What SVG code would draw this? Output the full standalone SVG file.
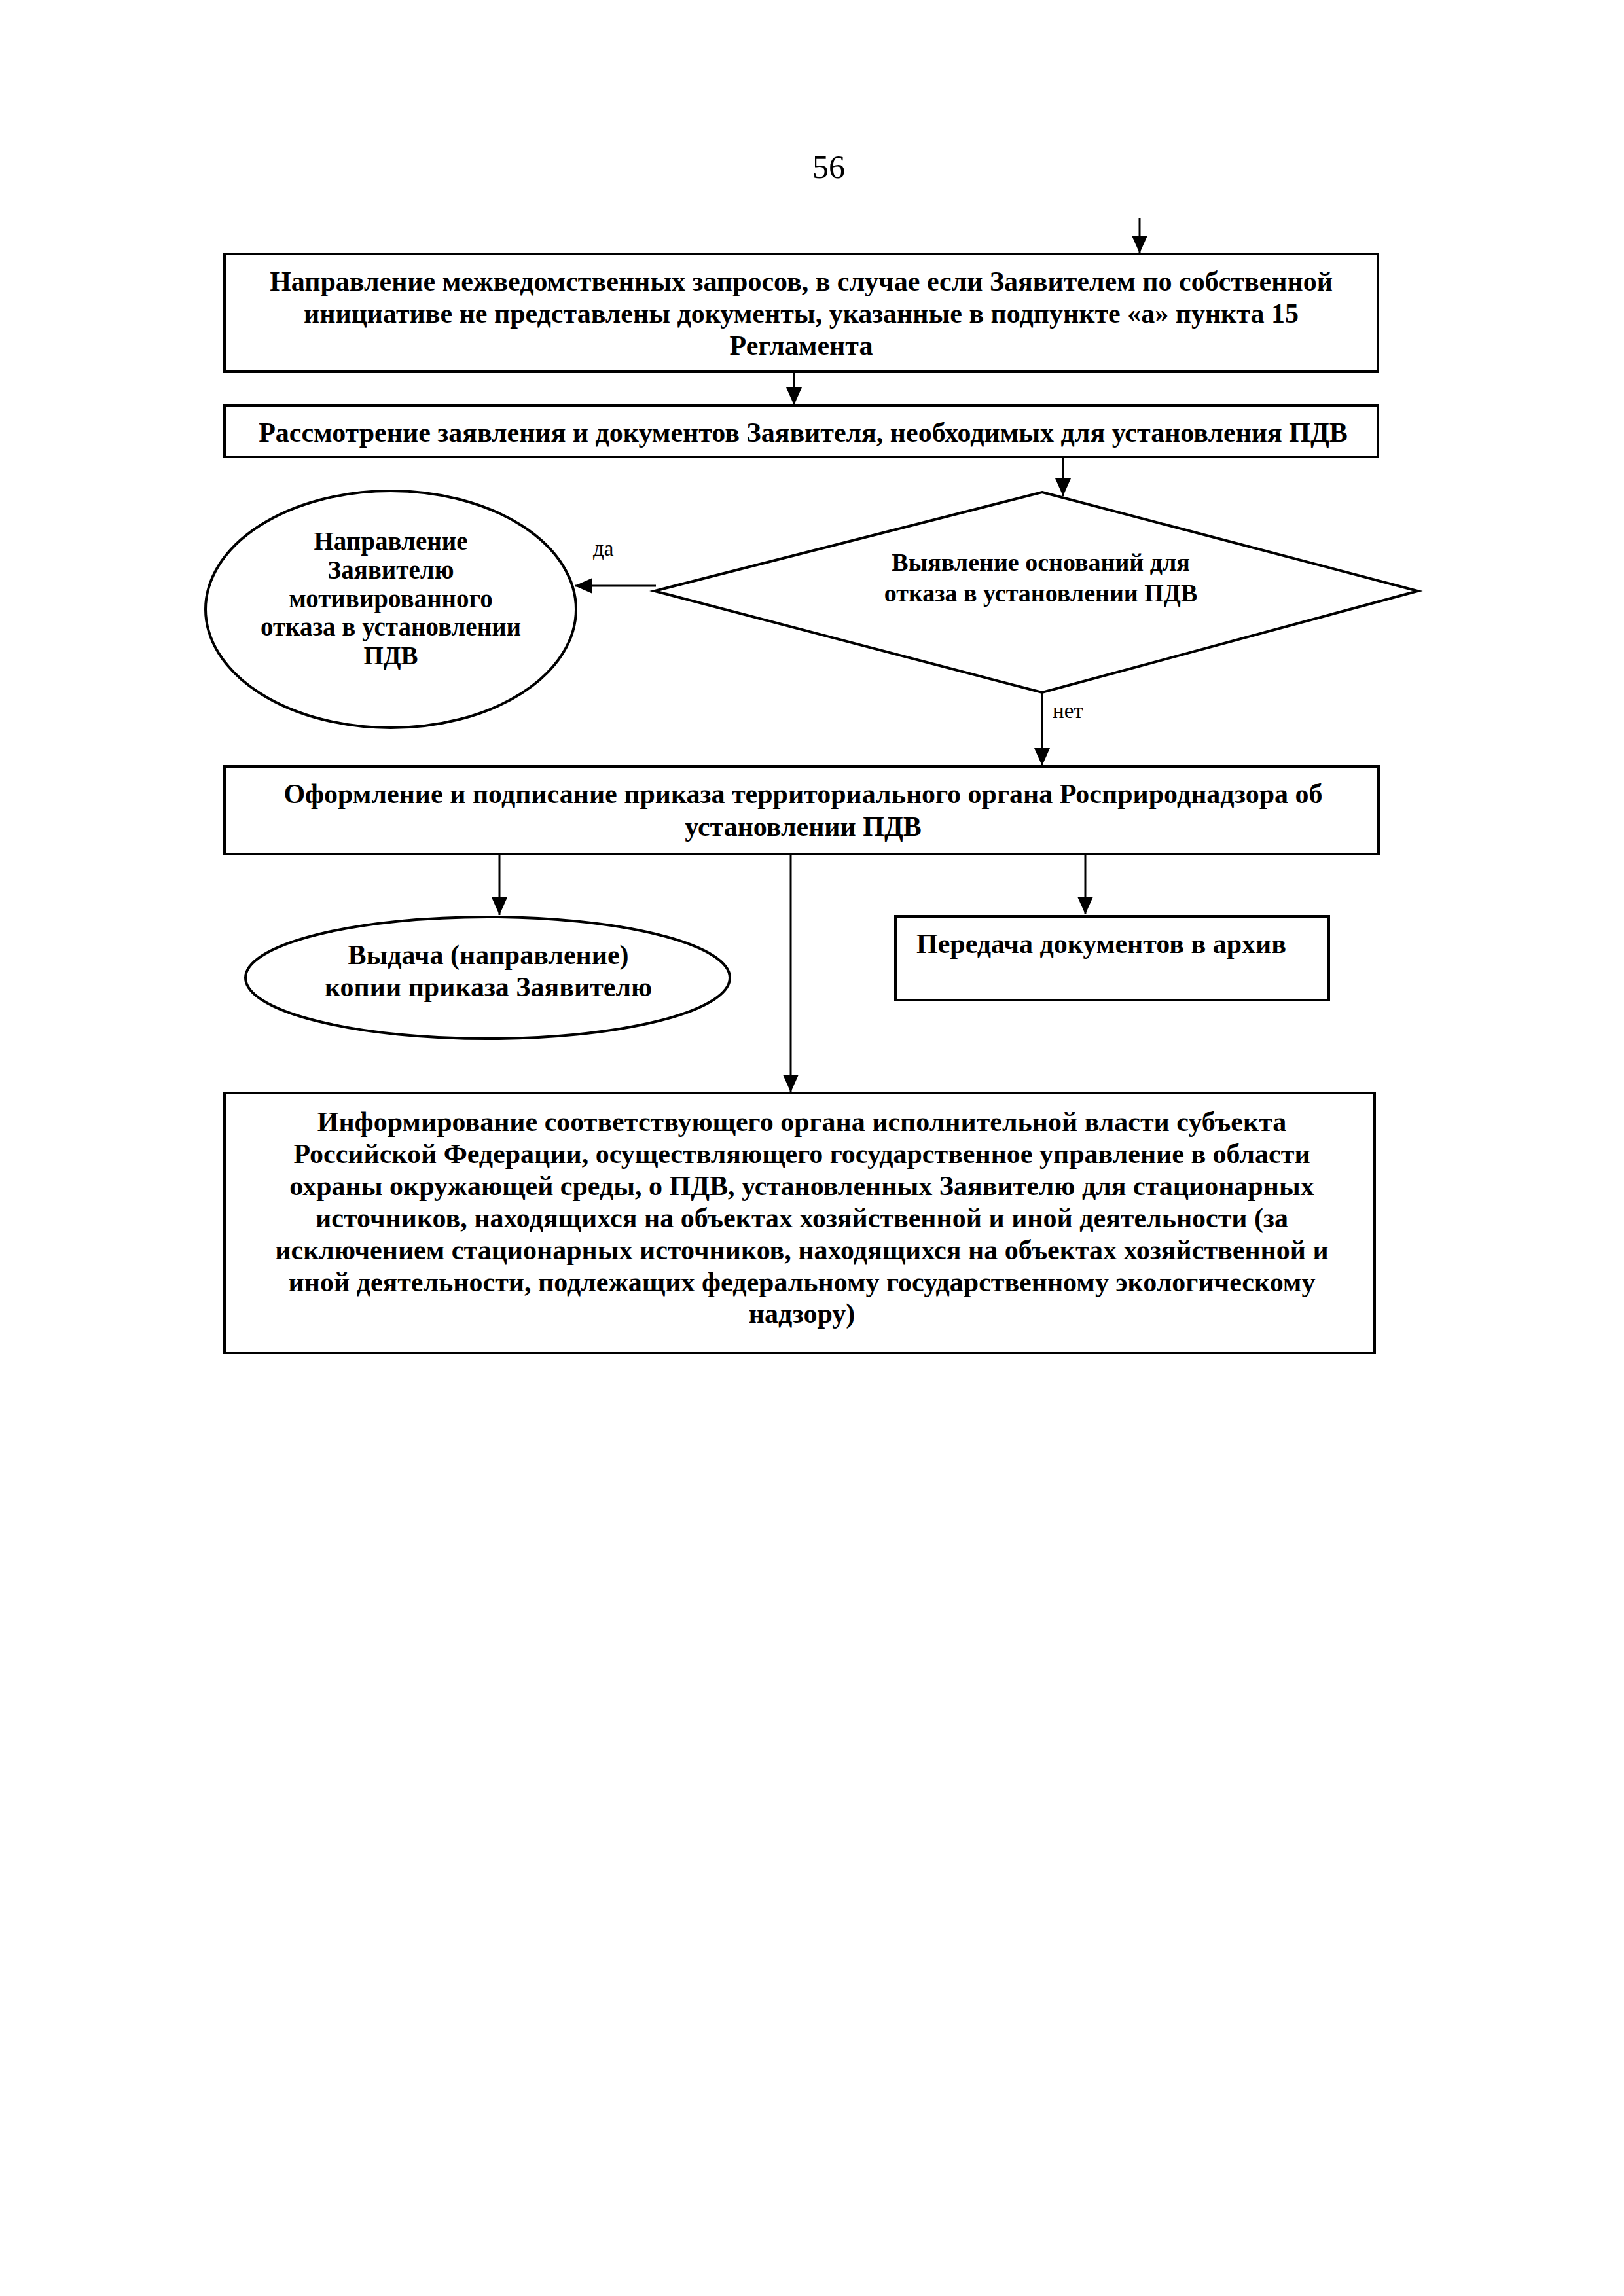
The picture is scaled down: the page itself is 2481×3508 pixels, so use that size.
<svg xmlns="http://www.w3.org/2000/svg" width="2481" height="3508" viewBox="0 0 2481 3508">
<style>
.box{fill:#fff;stroke:#000;stroke-width:4}
.shape{fill:#fff;stroke:#000;stroke-width:4}
.t{font-family:"Liberation Serif","Times New Roman",serif;font-weight:bold;font-size:42px;fill:#000;text-anchor:middle}
.ts{font-size:39px}
.td{font-size:38px}
.lbl{font-family:"Liberation Serif","Times New Roman",serif;font-size:33px;fill:#000}
.conn{stroke:#000;stroke-width:3;fill:none}
</style>
<defs>
<marker id="ah" markerUnits="userSpaceOnUse" markerWidth="28" markerHeight="26" refX="27" refY="12" orient="auto">
<path d="M0,0 L27,12 L0,24 Z" fill="#000"/>
</marker>
</defs>
<rect width="2481" height="3508" fill="#fff"/>
<text x="1266" y="272" style="font-family:'Liberation Serif','Times New Roman',serif;font-size:50px;text-anchor:middle">56</text>

<g id="connectors">
<line class="conn" x1="1741" y1="333" x2="1741" y2="387" marker-end="url(#ah)"/>
<line class="conn" x1="1213" y1="570" x2="1213" y2="619" marker-end="url(#ah)"/>
<line class="conn" x1="1624" y1="700" x2="1624" y2="758" marker-end="url(#ah)"/>
<line class="conn" x1="1002" y1="895" x2="878" y2="895" marker-end="url(#ah)"/>
<line class="conn" x1="1592" y1="1058" x2="1592" y2="1170" marker-end="url(#ah)"/>
<line class="conn" x1="763" y1="1307" x2="763" y2="1398" marker-end="url(#ah)"/>
<line class="conn" x1="1658" y1="1307" x2="1658" y2="1397" marker-end="url(#ah)"/>
<line class="conn" x1="1208" y1="1307" x2="1208" y2="1669" marker-end="url(#ah)"/>
<text class="lbl" x="906" y="849">да</text>
<text class="lbl" x="1608" y="1097">нет</text>
</g>

<g id="n1">
<rect class="box" x="343" y="388" width="1762" height="180"/>
<text class="t" x="1224" y="444">Направление межведомственных запросов, в случае если Заявителем по собственной</text>
<text class="t" x="1224" y="493">инициативе не представлены документы, указанные в подпункте «а» пункта 15</text>
<text class="t" x="1224" y="542">Регламента</text>
</g>

<g id="n2">
<rect class="box" x="343" y="620" width="1762" height="78"/>
<text class="t" x="1227" y="675">Рассмотрение заявления и документов Заявителя, необходимых для установления ПДВ</text>
</g>

<g id="n3">
<polygon class="shape" points="1592,752 2166,903 1592,1058 1000,903"/>
<text class="t td" x="1590" y="872">Выявление оснований для</text>
<text class="t td" x="1590" y="919">отказа в установлении ПДВ</text>
</g>

<g id="n4">
<ellipse class="shape" cx="597" cy="931" rx="283" ry="181"/>
<text class="t ts" x="597" y="840">Направление</text>
<text class="t ts" x="597" y="884">Заявителю</text>
<text class="t ts" x="597" y="928">мотивированного</text>
<text class="t ts" x="597" y="971">отказа в установлении</text>
<text class="t ts" x="597" y="1015">ПДВ</text>
</g>

<g id="n5">
<rect class="box" x="343" y="1171" width="1763" height="134"/>
<text class="t" x="1227" y="1227">Оформление и подписание приказа территориального органа Росприроднадзора об</text>
<text class="t" x="1227" y="1277">установлении ПДВ</text>
</g>

<g id="n6">
<ellipse class="shape" cx="745" cy="1494" rx="370" ry="93"/>
<text class="t" x="746" y="1473">Выдача (направление)</text>
<text class="t" x="746" y="1522">копии приказа Заявителю</text>
</g>

<g id="n7">
<rect class="box" x="1368" y="1400" width="662" height="128"/>
<text class="t" x="1400" y="1456" style="text-anchor:start">Передача документов в архив</text>
</g>

<g id="n8">
<rect class="box" x="343" y="1670" width="1757" height="397"/>
<text class="t" x="1225" y="1728">Информирование соответствующего органа исполнительной власти субъекта</text>
<text class="t" x="1225" y="1777">Российской Федерации, осуществляющего государственное управление в области</text>
<text class="t" x="1225" y="1826">охраны окружающей среды, о ПДВ, установленных Заявителю для стационарных</text>
<text class="t" x="1225" y="1875">источников, находящихся на объектах хозяйственной и иной деятельности (за</text>
<text class="t" x="1225" y="1924">исключением стационарных источников, находящихся на объектах хозяйственной и</text>
<text class="t" x="1225" y="1973">иной деятельности, подлежащих федеральному государственному экологическому</text>
<text class="t" x="1225" y="2021">надзору)</text>
</g>
</svg>
